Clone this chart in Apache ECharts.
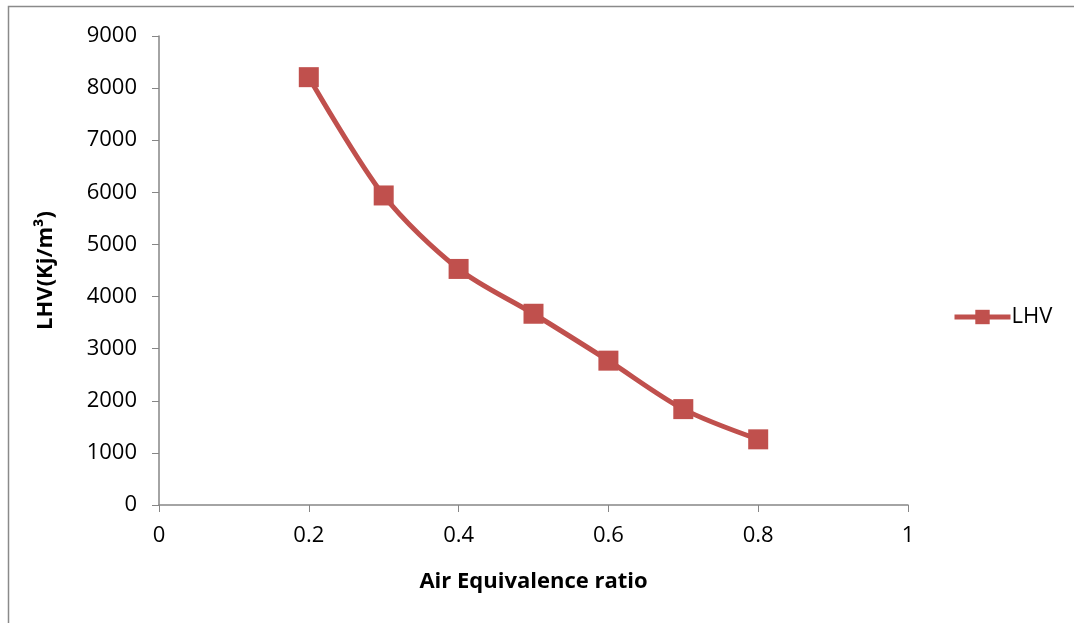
<!DOCTYPE html>
<html>
<head>
    <meta charset="UTF-8">
    <title>LHV</title>
    <script src="https://cdn.jsdelivr.net/npm/echarts@6/dist/echarts.min.js"></script>
    <style>
        html, body { margin: 0; padding: 0; background: #fff; }
        #chart { width: 1074px; height: 623px; }
    </style>
</head>
<body>
<div id="chart"></div>
<script type="text/javascript">
    // data
    var ratio = [0.2, 0.3, 0.4, 0.5, 0.6, 0.7, 0.8];
    var lhv = [8210, 5940, 4530, 3670, 2770, 1840, 1260];
    var xTicks = [0, 0.2, 0.4, 0.6, 0.8, 1];

    var points = [];
    for (var i = 0; i < ratio.length; i++) {
        points.push([ratio[i], lhv[i]]);
    }

    var red = '#C0504D';
    var axisGrey = '#868686';
    var font = 'Open Sans';

    var myChart = echarts.init(document.getElementById('chart'));
    var option = {
        animation: false,
        // outer frame: only top and left edges show in the picture
        graphic: [{
            type: 'polyline',
            shape: { points: [[8.5, 640], [8.5, 6.5], [1074, 6.5]] },
            style: { fill: 'none', stroke: '#8a8a8a', lineWidth: 1.5 },
            silent: true
        }],
        legend: {
            data: ['LHV'],
            left: 947,
            top: 301,
            itemWidth: 56,
            itemHeight: 18,
            itemGap: 4,
            lineStyle: { width: 5 },
            textStyle: { fontFamily: font, fontSize: 22, color: '#000', padding: [0, 0, 0, -4] }
        },
        grid: { left: 159, right: 166, top: 36, bottom: 118 },
        xAxis: {
            type: 'value',
            min: 0,
            max: 1,
            interval: 0.2,
            name: 'Air Equivalence ratio',
            nameLocation: 'middle',
            nameGap: 66,
            nameTextStyle: { fontFamily: font, fontSize: 22, fontWeight: 'bold', color: '#000' },
            axisLine: { lineStyle: { color: axisGrey, width: 1.5 } },
            axisTick: { show: true, length: 7, lineStyle: { color: axisGrey } },
            splitLine: { show: false },
            axisLabel: {
                fontFamily: font, fontSize: 22, color: '#000', margin: 20,
                formatter: function (v) { return String(Math.round(v * 10) / 10); }
            }
        },
        yAxis: {
            type: 'value',
            min: 0,
            max: 9000,
            interval: 1000,
            name: 'LHV(Kj/m³)',
            nameLocation: 'middle',
            nameGap: 102,
            nameTextStyle: { fontFamily: font, fontSize: 22, fontWeight: 'bold', color: '#000' },
            axisLine: { show: true, lineStyle: { color: axisGrey, width: 1.5 } },
            axisTick: { show: true, length: 7, lineStyle: { color: axisGrey } },
            splitLine: { show: false },
            axisLabel: {
                fontFamily: font, fontSize: 22, color: '#000', margin: 22,
                formatter: function (v) { return String(v); }
            }
        },
        series: [{
            name: 'LHV',
            type: 'line',
            data: points,
            smooth: 0.3,
            symbol: 'rect',
            symbolSize: 20,
            itemStyle: { color: red },
            lineStyle: { color: red, width: 5 }
        }]
    };
    myChart.setOption(option);
</script>
</body>
</html>
